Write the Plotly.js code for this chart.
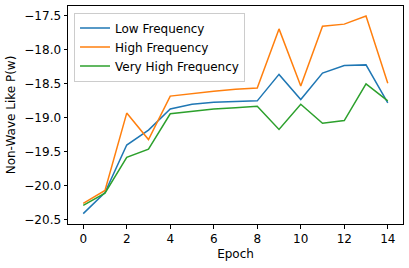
<!DOCTYPE html>
<html>
<head>
<meta charset="utf-8">
<script src="https://cdn.plot.ly/plotly-3.0.1.min.js"></script>
<style>html,body{margin:0;padding:0;background:#fff;}#chart{width:409px;height:268px;}</style>
</head>
<body>
<div id="chart"></div>
<script>
var epochs = [0,1,2,3,4,5,6,7,8,9,10,11,12,13,14];
var lowFreq = [-20.41,-20.10,-19.40,-19.18,-18.87,-18.80,-18.77,-18.76,-18.75,-18.36,-18.73,-18.34,-18.23,-18.22,-18.78];
var highFreq = [-20.26,-20.07,-18.93,-19.32,-18.68,-18.64,-18.61,-18.58,-18.56,-17.69,-18.53,-17.65,-17.62,-17.50,-18.49];
var veryHighFreq = [-20.29,-20.11,-19.58,-19.46,-18.94,-18.90,-18.87,-18.85,-18.83,-19.17,-18.80,-19.08,-19.04,-18.50,-18.75];
var seriesNames = ["Low Frequency","High Frequency","Very High Frequency"];
var seriesColors = ["#1f77b4","#ff7f0e","#2ca02c"];
var xTicks = [0,2,4,6,8,10,12,14];
var yTicks = [-17.5,-18.0,-18.5,-19.0,-19.5,-20.0,-20.5];

var allSeries = [lowFreq, highFreq, veryHighFreq];
var traces = allSeries.map(function(s,i){
  return {x: epochs, y: s, type:'scatter', mode:'lines', name: seriesNames[i],
          line:{color: seriesColors[i], width:1.5}};
});
var font = {family:'DejaVu Sans, sans-serif', size:12, color:'#000'};
var layout = {
  width:409, height:268,
  margin:{l:68, r:6, t:6, b:44},
  paper_bgcolor:'#fff', plot_bgcolor:'#fff',
  font: font,
  showlegend:true,
  legend:{x:0.018, y:0.97, xanchor:'left', yanchor:'top', bgcolor:'rgba(255,255,255,0.8)',
          bordercolor:'#cccccc', borderwidth:1, font:{family:'DejaVu Sans, sans-serif', size:12, color:'#000'},
          tracegroupgap:0},
  xaxis:{range:[-0.7,14.7], tickvals:xTicks, ticktext:xTicks.map(String), ticks:'outside', ticklen:3.5, tickwidth:1,
         tickcolor:'#000', showline:true, linecolor:'#000', linewidth:1, mirror:true, showgrid:false, zeroline:false,
         title:{text:'Epoch', font:font, standoff:4}},
  yaxis:{range:[-20.563,-17.353], tickvals:yTicks, ticktext:yTicks.map(function(v){return '\u2212'+Math.abs(v).toFixed(1);}),
         ticks:'outside', ticklen:3.5, tickwidth:1, tickcolor:'#000', showline:true, linecolor:'#000', linewidth:1,
         mirror:true, showgrid:false, zeroline:false,
         title:{text:'Non-Wave Like P(w)', font:font, standoff:6}}
};
Plotly.newPlot('chart', traces, layout, {staticPlot:true, displayModeBar:false});
</script>
</body>
</html>
